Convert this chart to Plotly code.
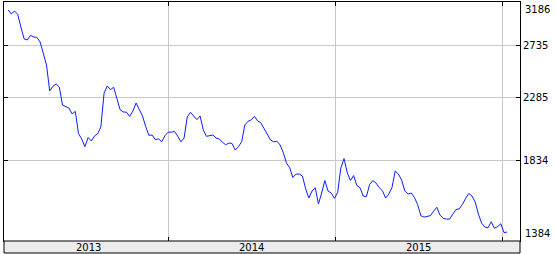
import plotly.graph_objects as go
import pandas as pd
import math

# ---- data (weekly closes) ----
start_date = "2013-01-15"
values = [
    3099, 3056, 3087, 3051, 2920, 2801, 2791, 2836, 2820, 2816,
    2771, 2662, 2558, 2336, 2374, 2394, 2368, 2224, 2213, 2201,
    2156, 2175, 2013, 1976, 1923, 1986, 1962, 1996, 2012, 2061,
    2319, 2377, 2347, 2366, 2276, 2188, 2171, 2169, 2138, 2178,
    2240, 2186, 2141, 2064, 2001, 2003, 1971, 1977, 1957, 1998,
    2023, 2023, 2028, 1996, 1956, 1982, 2134, 2168, 2142, 2114,
    2141, 2039, 1994, 1996, 2003, 1982, 1976, 1953, 1936, 1948,
    1945, 1901, 1923, 1957, 2075, 2101, 2112, 2138, 2104, 2090,
    2054, 2009, 1969, 1956, 1961, 1935, 1885, 1817, 1788, 1727,
    1748, 1748, 1736, 1660, 1608, 1648, 1666, 1575, 1636, 1709,
    1648, 1636, 1606, 1639, 1785, 1845, 1756, 1709, 1739, 1680,
    1666, 1619, 1616, 1686, 1709, 1694, 1667, 1649, 1608, 1630,
    1669, 1767, 1748, 1712, 1648, 1630, 1636, 1611, 1572, 1512,
    1504, 1507, 1512, 1536, 1557, 1515, 1498, 1494, 1494, 1520,
    1545, 1548, 1572, 1606, 1634, 1619, 1585, 1520, 1473, 1453,
    1449, 1480, 1447, 1455, 1470, 1425, 1428,
]
dates = pd.date_range(start=start_date, periods=len(values), freq="7D")

y_min, y_max = 1384, 3186
y_ticks = [2735, 2285, 1834]
year_labels = ["2013", "2014", "2015"]
year_label_dates = ["2013-07-09", "2014-07-02", "2015-07-02"]
year_starts = ["2014-01-01", "2015-01-01", "2016-01-01"]

FONT = "DejaVu Sans"

fig = go.Figure()
fig.add_trace(go.Scatter(
    x=dates, y=values, mode="lines",
    line=dict(color="#0a1eff", width=1),
    hoverinfo="skip", showlegend=False,
))

fig.update_layout(
    width=555, height=254,
    margin=dict(l=4, r=35, t=2, b=13, pad=0),
    paper_bgcolor="white", plot_bgcolor="white",
    font=dict(family=FONT, size=10, color="black"),
    xaxis=dict(
        type="date",
        range=["2013-01-06", "2016-02-09"],
        tickvals=year_starts,
        showticklabels=False,
        showgrid=True, gridcolor="#c8c8c8", gridwidth=1,
        ticks="inside", ticklen=4, tickcolor="black",
        showline=True, linecolor="black", linewidth=1, mirror="ticks",
        zeroline=False,
    ),
    yaxis=dict(
        type="log",
        range=[math.log10(y_min), math.log10(y_max)],
        side="right",
        tickvals=y_ticks,
        ticktext=[str(v) for v in y_ticks],
        showgrid=True, gridcolor="#c8c8c8", gridwidth=1,
        ticks="inside", ticklen=4, tickcolor="black",
        showline=True, linecolor="black", linewidth=1, mirror="ticks",
        zeroline=False,
        tickfont=dict(family=FONT, size=10, color="black"),
    ),
)

# grey band with year labels beneath the plot
fig.add_shape(
    type="rect", xref="paper", yref="paper",
    x0=0, x1=1, y0=-12 / 239, y1=0,
    fillcolor="#ececec", line=dict(color="black", width=1),
)
for lbl, d in zip(year_labels, year_label_dates):
    fig.add_annotation(
        x=d, xref="x", y=-6 / 239, yref="paper",
        text=lbl, showarrow=False, xanchor="center", yanchor="middle",
        font=dict(family=FONT, size=10, color="black"),
    )

# end labels of the value axis (min / max)
fig.add_annotation(x=1, xref="paper", y=1, yref="paper", text=str(y_max),
                   showarrow=False, xanchor="left", yanchor="top", xshift=3,
                   font=dict(family=FONT, size=10, color="black"))
fig.add_annotation(x=1, xref="paper", y=0, yref="paper", text=str(y_min),
                   showarrow=False, xanchor="left", yanchor="bottom", xshift=3,
                   font=dict(family=FONT, size=10, color="black"))

fig.write_html("out.html")
